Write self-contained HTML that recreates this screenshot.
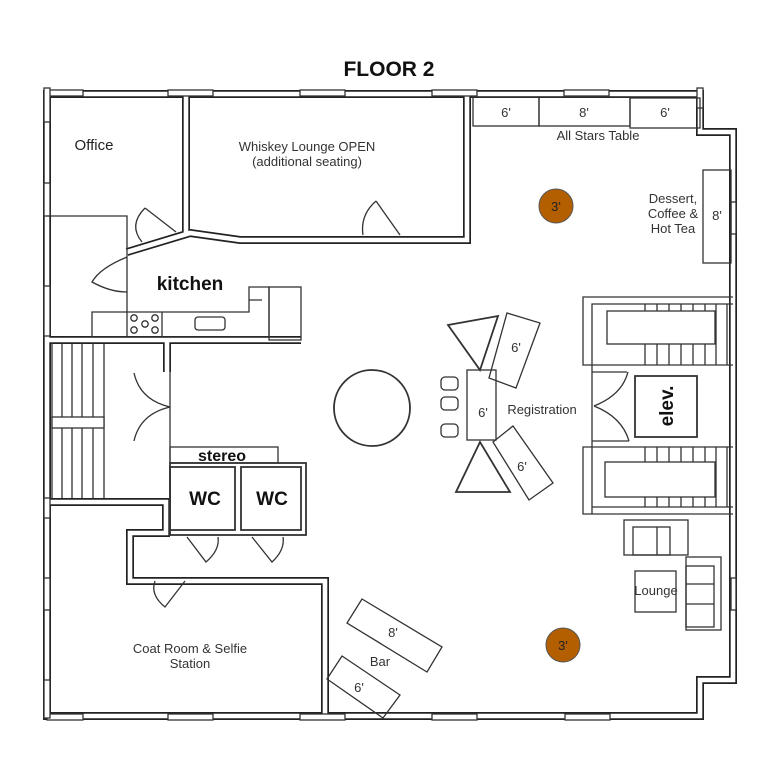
<!DOCTYPE html>
<html><head><meta charset="utf-8"><style>
html,body{margin:0;padding:0;background:#fff;}
svg{display:block;}
text{font-family:"Liberation Sans",sans-serif;fill:#333;}
</style></head><body>
<svg width="768" height="757" viewBox="0 0 768 757" xmlns="http://www.w3.org/2000/svg">
<rect width="768" height="757" fill="#fff"/>
<text x="389" y="76" text-anchor="middle" font-size="21" font-weight="bold" fill="#111" style="fill:#111">FLOOR 2</text>

<defs>
<g id="walls" fill="none" stroke-linejoin="miter">
  <path d="M47,716 L47,94 L700,94 L700,132 L733,132 L733,680 L700,680 L700,716 Z"/>
  <path d="M186,94 L186,233"/>
  <path d="M127,252 L190,233 L240,240 L467,240 L467,94"/>
  <path d="M47,340 L301,340"/>
  <path d="M167,340 L167,372"/>
  <path d="M47,502 L166,502 L166,533 L130,533 L130,581 L325,581 L325,716"/>
</g>
</defs>
<use href="#walls" stroke="#222" stroke-width="8"/>
<use href="#walls" stroke="#fff" stroke-width="4.6"/>

<g fill="#fff" stroke="#333" stroke-width="1.3">
  <rect x="47" y="90" width="36" height="6"/>
  <rect x="168" y="90" width="45" height="6"/>
  <rect x="300" y="90" width="45" height="6"/>
  <rect x="432" y="90" width="45" height="6"/>
  <rect x="564" y="90" width="45" height="6"/>
  <rect x="697" y="88" width="6" height="20"/>
  <rect x="47" y="714" width="36" height="6"/>
  <rect x="168" y="714" width="45" height="6"/>
  <rect x="300" y="714" width="45" height="6"/>
  <rect x="432" y="714" width="45" height="6"/>
  <rect x="565" y="714" width="45" height="6"/>
  <rect x="44" y="88" width="6" height="34"/>
  <rect x="44" y="183" width="6" height="33"/>
  <rect x="44" y="286" width="6" height="50"/>
  <rect x="44" y="498" width="6" height="20"/>
  <rect x="44" y="578" width="6" height="32"/>
  <rect x="44" y="680" width="6" height="38"/>
  <rect x="731" y="202" width="5" height="32"/>
  <rect x="731" y="578" width="5" height="32"/>
</g>

<g fill="none" stroke="#333" stroke-width="1.3">
  <path d="M47,216 L127,216 L127,312"/>
  <path d="M145,208 L176,232 M145,208 Q128,225 142,242"/>
  <path d="M376,201 L400,235 M376,201 Q360,215 363,235"/>
  <path d="M127,257 Q100,268 92,282 Q110,292 127,292"/>
  <path d="M92,312 L249,312 L249,287 L269,287 L269,337 L92,337 Z"/>
  <path d="M127,312 L127,337 M162,312 L162,337 M249,300 L262,300"/>
  <rect x="269" y="287" width="32" height="53"/>
  <rect x="195" y="317" width="30" height="13" rx="3"/>
  <circle cx="134" cy="318" r="3.2"/><circle cx="134" cy="330" r="3.2"/>
  <circle cx="145" cy="324" r="3.2"/><circle cx="155" cy="318" r="3.2"/><circle cx="155" cy="330" r="3.2"/>
  <path d="M52,343 L52,498 M62,343 L62,498 M72,343 L72,498 M82,343 L82,498 M93,343 L93,498 M104,343 L104,498"/>
  <rect x="52" y="417" width="52" height="11" fill="#fff"/>
  <path d="M170,372 L170,440 M170,407 Q140,400 134,373 M170,407 Q140,414 134,441"/>
  <path d="M170,440 L170,463"/>
  <rect x="170" y="447" width="108" height="16"/>
  <rect x="170" y="463" width="136" height="72" stroke-width="1.8"/>
  <rect x="170" y="467" width="65" height="63" stroke-width="1.8"/>
  <rect x="241" y="467" width="60" height="63" stroke-width="1.8"/>
  <path d="M187,537 L206,562 Q220,550 218,537"/>
  <path d="M252,537 L272,562 Q285,550 283,537"/>
  <path d="M185,581 L165,607 Q150,595 155,581"/>
  <circle cx="372" cy="408" r="38" stroke-width="1.8"/>
  <rect x="467" y="370" width="29" height="70"/>
  <rect x="441" y="377" width="17" height="13" rx="4"/>
  <rect x="441" y="397" width="17" height="13" rx="4"/>
  <rect x="441" y="424" width="17" height="13" rx="4"/>
  <path d="M448,325 L498,316 L480,370 Z" stroke-width="1.8"/>
  <path d="M456,492 L510,492 L480,442 Z" stroke-width="1.8"/>
  <path d="M507,313 L540,323 L516,388 L489,378 Z"/>
  <path d="M513,426 L553,483 L529,500 L493,442 Z"/>
  <path d="M362,599 L442,647 L427,672 L347,623 Z"/>
  <path d="M342,656 L400,695 L383,718 L327,679 Z"/>
  <rect x="473" y="97" width="66" height="29"/>
  <rect x="539" y="97" width="91" height="29"/>
  <rect x="630" y="98" width="70" height="30"/>
  <rect x="703" y="170" width="28" height="93"/>
  <path d="M733,297 L583,297 L583,365 L733,365"/>
  <path d="M733,304 L592,304 L592,514"/>
  <rect x="607" y="311" width="108" height="33"/>
  <path d="M645,304 L645,311 M657,304 L657,311 M669,304 L669,311 M681,304 L681,311 M693,304 L693,311 M705,304 L705,311 M645,344 L645,365 M657,344 L657,365 M669,344 L669,365 M681,344 L681,365 M693,344 L693,365 M705,344 L705,365 M716,304 L716,365 M727,304 L727,365"/>
  <path d="M592,372 L627,372 M592,441 L629,441 M594,406 Q622,395 628,372 M594,406 Q622,417 629,441"/>
  <rect x="635" y="376" width="62" height="61" stroke-width="1.8"/>
  <path d="M733,447 L583,447 L583,514 L733,514"/>
  <path d="M592,507 L733,507"/>
  <rect x="605" y="462" width="110" height="35"/>
  <path d="M645,447 L645,462 M657,447 L657,462 M669,447 L669,462 M681,447 L681,462 M693,447 L693,462 M705,447 L705,462 M645,497 L645,507 M657,497 L657,507 M669,497 L669,507 M681,497 L681,507 M693,497 L693,507 M705,497 L705,507 M716,447 L716,507 M727,447 L727,507"/>
  <rect x="624" y="520" width="64" height="35"/>
  <rect x="633" y="527" width="37" height="28"/>
  <path d="M657,527 L657,555"/>
  <rect x="635" y="571" width="41" height="41"/>
  <rect x="686" y="557" width="35" height="73"/>
  <rect x="686" y="566" width="28" height="61"/>
  <path d="M686,584 L714,584 M686,604 L714,604"/>
</g>

<circle cx="556" cy="206" r="17" fill="#b35f00" stroke="#555" stroke-width="1"/>
<circle cx="563" cy="645" r="17" fill="#b35f00" stroke="#555" stroke-width="1"/>

<g font-size="13">
  <text x="94" y="150" text-anchor="middle" font-size="15" style="fill:#222">Office</text>
  <text x="307" y="151" text-anchor="middle">Whiskey Lounge OPEN</text>
  <text x="307" y="166" text-anchor="middle">(additional seating)</text>
  <text x="598" y="140" text-anchor="middle">All Stars Table</text>
  <text x="506" y="117" text-anchor="middle">6'</text>
  <text x="584" y="117" text-anchor="middle">8'</text>
  <text x="665" y="117" text-anchor="middle">6'</text>
  <text x="673" y="203" text-anchor="middle">Dessert,</text>
  <text x="673" y="218" text-anchor="middle">Coffee &amp;</text>
  <text x="673" y="233" text-anchor="middle">Hot Tea</text>
  <text x="717" y="220" text-anchor="middle">8'</text>
  <text x="556" y="211" text-anchor="middle" style="fill:#222">3'</text>
  <text x="563" y="650" text-anchor="middle" style="fill:#222">3'</text>
  <text x="516" y="352" text-anchor="middle">6'</text>
  <text x="483" y="417" text-anchor="middle">6'</text>
  <text x="522" y="471" text-anchor="middle">6'</text>
  <text x="542" y="414" text-anchor="middle">Registration</text>
  <text x="393" y="637" text-anchor="middle">8'</text>
  <text x="380" y="666" text-anchor="middle">Bar</text>
  <text x="359" y="692" text-anchor="middle">6'</text>
  <text x="656" y="595" text-anchor="middle">Lounge</text>
  <text x="190" y="653" text-anchor="middle">Coat Room &amp; Selfie</text>
  <text x="190" y="668" text-anchor="middle">Station</text>
</g>
<g font-weight="bold" style="fill:#111">
  <text x="190" y="290" text-anchor="middle" font-size="19" style="fill:#111">kitchen</text>
  <text x="222" y="461" text-anchor="middle" font-size="16" style="fill:#111">stereo</text>
  <text x="205" y="505" text-anchor="middle" font-size="19" style="fill:#111">WC</text>
  <text x="272" y="505" text-anchor="middle" font-size="19" style="fill:#111">WC</text>
  <text transform="translate(673,406) rotate(-90)" text-anchor="middle" font-size="19" style="fill:#111">elev.</text>
</g>
</svg>
</body></html>
